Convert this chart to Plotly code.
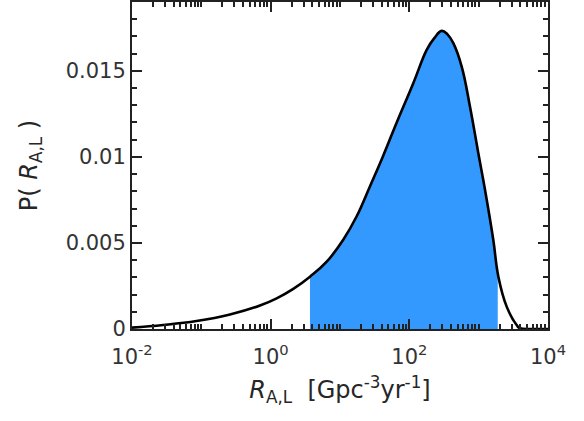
import numpy as np
import plotly.graph_objects as go

# Posterior density of the rate R_A,L
rate = [0.01, 0.0282, 0.0851, 0.259, 0.701, 1.22, 2.12, 3.69, 6.43, 11.2, 17.4, 27.1,
        37.8, 65.8, 114, 178, 229, 293, 355, 431, 569, 750, 989, 1236, 1626, 1923, 2535,
        3532, 3954, 6310, 10000]
prob = [0.00008, 0.00023, 0.00046, 0.00084, 0.00136, 0.00178, 0.00233, 0.00304, 0.00391,
        0.0052, 0.00655, 0.0083, 0.00963, 0.0120, 0.01428, 0.01622, 0.0169, 0.01732,
        0.01712, 0.01661, 0.01525, 0.01292, 0.01021, 0.00808, 0.00517, 0.00304, 0.0013,
        0.00023, 0.00004, 0.0, 0.0]

# Credible interval bounds (shaded region)
ci_low = 3.69
ci_high = 1884

x_tickvals = [0.01, 1, 100, 10000]
x_ticktext = ["10<sup>-2</sup>", "10<sup>0</sup>", "10<sup>2</sup>", "10<sup>4</sup>"]
y_tickvals = [0, 0.005, 0.01, 0.015]
y_ticktext = ["0", "0.005", "0.01", "0.015"]

lr = np.log10(rate)
pr = np.array(prob)
y_low = float(np.interp(np.log10(ci_low), lr, pr))
y_high = float(np.interp(np.log10(ci_high), lr, pr))
ra = np.array(rate)
mask = (ra > ci_low) & (ra < ci_high)
fx = [ci_low] + list(ra[mask]) + [ci_high]
fy = [y_low] + list(pr[mask]) + [y_high]

fig = go.Figure()
fig.add_trace(go.Scatter(x=fx, y=fy, mode="lines", fill="tozeroy",
                         fillcolor="#3399FF",
                         line=dict(color="rgba(0,0,0,0)", width=0, shape="spline", smoothing=1.2),
                         hoverinfo="skip", showlegend=False))
fig.add_trace(go.Scatter(x=rate, y=prob, mode="lines",
                         line=dict(color="black", width=2.6, shape="spline", smoothing=1.2),
                         showlegend=False))

minor_x = [m * 10.0 ** e for e in range(-2, 4) for m in range(1, 10)]
minor_x = [v for v in minor_x if v not in x_tickvals]

axis_common = dict(showline=True, linecolor="#222222", linewidth=2, mirror="allticks",
                   ticks="inside", ticklen=10, tickwidth=2, tickcolor="#222222",
                   showgrid=False, zeroline=False, automargin=False,
                   tickfont=dict(family="DejaVu Sans", size=21, color="#333333"))

fig.update_layout(
    width=584, height=421,
    margin=dict(l=132, r=36, t=2, b=92),
    paper_bgcolor="white", plot_bgcolor="white",
    xaxis=dict(type="log", range=[-2, 4], tickvals=x_tickvals, ticktext=x_ticktext,
               ticklabelstandoff=8,
               minor=dict(tickvals=minor_x, ticks="inside", ticklen=5, tickwidth=1.5,
                          tickcolor="#222222", showgrid=False),
               title=dict(text="<i>R</i><sub>A,L</sub>  [Gpc<sup>-3</sup>yr<sup>-1</sup>]",
                          font=dict(family="DejaVu Sans", size=24, color="#262626"),
                          standoff=13),
               **axis_common),
    yaxis=dict(range=[0, 0.019], tickvals=y_tickvals, ticktext=y_ticktext,
               minor=dict(dtick=0.001, ticks="inside", ticklen=5, tickwidth=1.5,
                          tickcolor="#222222", showgrid=False),
               title=dict(text="P( <i>R</i><sub>A,L</sub> )",
                          font=dict(family="DejaVu Sans", size=24, color="#262626"),
                          standoff=21),
               **axis_common),
)

fig.write_html("out.html", config={"displayModeBar": False},
               post_script="document.body.style.margin='0';")
